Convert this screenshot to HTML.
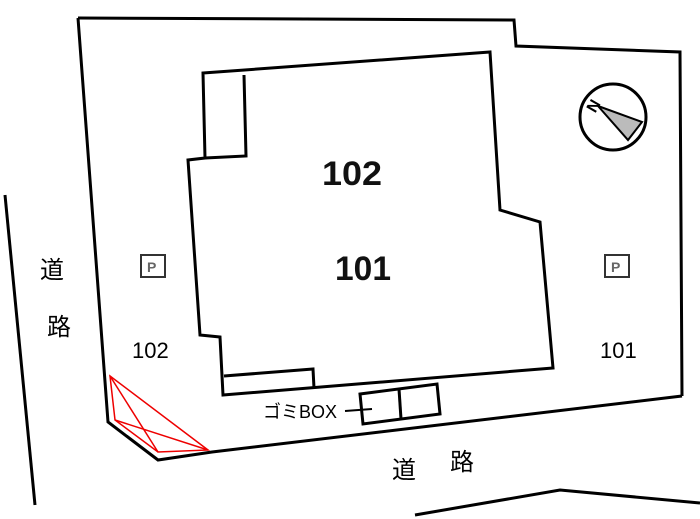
<!DOCTYPE html><html><head><style>body{margin:0;background:#fff}svg{display:block}</style></head><body>
<svg width="700" height="519" viewBox="0 0 700 519" xmlns="http://www.w3.org/2000/svg" font-family="Liberation Sans, Noto Sans CJK JP, sans-serif">
<g fill="none" stroke="#000" stroke-width="3" stroke-linejoin="miter">
<polyline points="78,18 514,20 516,46 680,52 682,396"/>
<polyline points="78,18 108,422 158,460 212,452 682,396"/>
<polygon points="203,73 490,52 500,210 540,222 553,368 223,395 220,337 200,335 188,160 205,158"/>
<polyline points="205,158 246,156 244,75"/>
<polyline points="224,376 313,369 314,388"/>
<polygon points="360,394 437,384 440,414 363,424"/>
<line x1="399" y1="389" x2="401" y2="419"/>
<line x1="345" y1="411" x2="372" y2="409" stroke-width="2"/>
<line x1="5" y1="195" x2="35" y2="505"/>
<polyline points="415,515 560,490 700,503"/>
<circle cx="613" cy="117" r="33"/>
</g>
<polygon points="598,106 642,122 628,140" fill="#bbb" stroke="#000" stroke-width="2"/>
<text x="585" y="108" font-size="16" font-weight="bold" transform="rotate(-60 595 102)">N</text>
<g fill="none" stroke="#e00" stroke-width="1.5">
<polygon points="110,376 208,450 158,452 115,420"/>
<line x1="110" y1="376" x2="158" y2="452"/>
<line x1="115" y1="420" x2="208" y2="450"/>
</g>
<g fill="#fff" stroke="#333" stroke-width="2"><rect x="141" y="255" width="24" height="22"/><rect x="605" y="255" width="24" height="22"/></g>
<g font-size="14" fill="#666" font-weight="bold"><text x="147" y="272">P</text><text x="611" y="272">P</text></g>
<g font-weight="bold" font-size="34" fill="#111"><text x="322" y="185" textLength="60" lengthAdjust="spacingAndGlyphs">102</text><text x="335" y="280" textLength="56" lengthAdjust="spacingAndGlyphs">101</text></g>
<g font-size="22" fill="#000"><text x="132" y="358">102</text><text x="600" y="358">101</text></g>
<g font-size="24" fill="#000"><text x="40" y="278">道</text><text x="47" y="335">路</text><text x="392" y="478">道</text><text x="450" y="470">路</text></g>
<text x="263" y="418" font-size="18">ゴミBOX</text>
</svg></body></html>
